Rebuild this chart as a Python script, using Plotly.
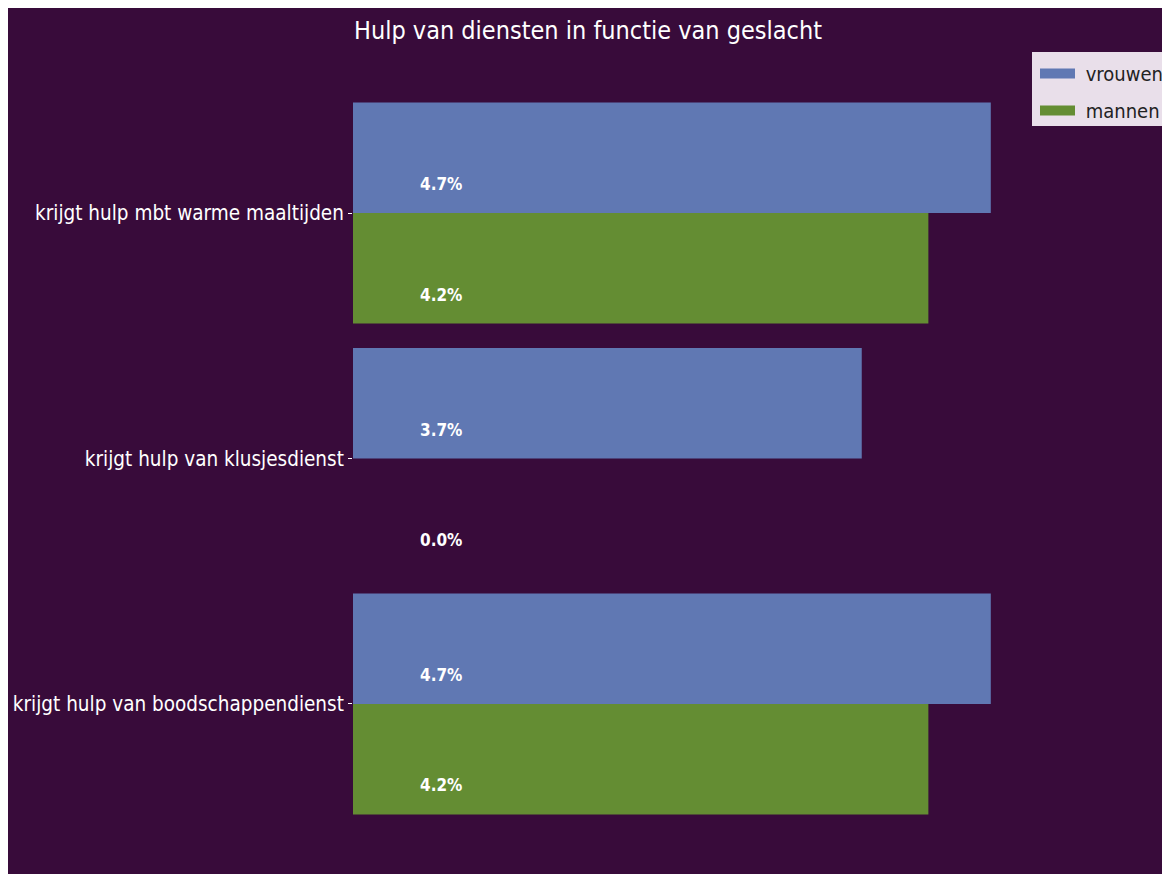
import plotly.graph_objects as go

categories = ["krijgt hulp mbt warme maaltijden", "krijgt hulp van klusjesdienst", "krijgt hulp van boodschappendienst"]
vrouwen = [4.70, 3.749, 4.70]
mannen = [4.24, 0.0, 4.24]
series_names = ["vrouwen", "mannen"]

BG = "#380b3a"
BLUE = "#6078b3"
GREEN = "#648d33"
LEGBG = "#e9dfea"
FONT = "DejaVu Sans Condensed, DejaVu Sans, sans-serif"

pos = list(range(len(categories)))
bw = 0.45
lab_off = 0.114

fig = go.Figure()
fig.add_trace(go.Bar(y=[p - bw / 2 for p in pos], x=vrouwen, orientation="h", width=bw,
                     name=series_names[0], marker=dict(color=BLUE, line=dict(width=0)),
                     hoverinfo="x", showlegend=False))
fig.add_trace(go.Bar(y=[p + bw / 2 for p in pos], x=mannen, orientation="h", width=bw,
                     name=series_names[1], marker=dict(color=GREEN, line=dict(width=0)),
                     hoverinfo="x", showlegend=False))

# legend entries drawn as wide patches
fig.add_trace(go.Scatter(x=[None], y=[None], mode="lines", name="\u00a0" + series_names[0],
                         line=dict(color=BLUE, width=14), legendgroup="a"))
fig.add_trace(go.Scatter(x=[None], y=[None], mode="lines", name="\u00a0" + series_names[1],
                         line=dict(color=GREEN, width=14), legendgroup="b"))

label_x = 0.65
fig.add_trace(go.Scatter(y=[p - bw / 2 + lab_off for p in pos], x=[label_x] * len(pos), mode="text",
                         text=[f"<b>{v:.1f}%</b>" for v in vrouwen], showlegend=False,
                         textfont=dict(color="white", size=17, family=FONT), hoverinfo="skip"))
fig.add_trace(go.Scatter(y=[p + bw / 2 + lab_off for p in pos], x=[label_x] * len(pos), mode="text",
                         text=[f"<b>{v:.1f}%</b>" for v in mannen], showlegend=False,
                         textfont=dict(color="white", size=17, family=FONT), hoverinfo="skip"))

OFF = 8  # page body margin
W, H = 1170 - OFF, 874 - OFF
# plot area in screen px: x 353..1025, y 67..850
L, R, T, B = 353 - OFF, 1025 - OFF, 67 - OFF, 850 - OFF
pw, ph = R - L, B - T


def px_x(p):
    return (p - OFF - L) / pw


def px_y(p):
    return (B - (p - OFF)) / ph


fig.update_layout(
    width=W, height=H,
    margin=dict(l=L, r=W - R, t=T, b=H - B, pad=0, autoexpand=False),
    paper_bgcolor=BG,
    plot_bgcolor=BG,
    barmode="overlay",
    font=dict(family=FONT, color="white"),
    title=dict(text="Hulp van diensten in functie van geslacht", x=(588 - OFF) / W, xanchor="center",
               y=1 - (30 - OFF) / H, yanchor="middle", font=dict(size=25, color="white", family=FONT)),
    xaxis=dict(range=[0, 4.952], showgrid=False, zeroline=False, showticklabels=False,
               showline=False, ticks=""),
    yaxis=dict(range=[2.595, -0.595], tickvals=pos, ticktext=categories, showgrid=False,
               zeroline=False, showline=False, ticks="outside", ticklen=4, tickcolor="white",
               tickfont=dict(size=20.5, color="white", family=FONT)),
    legend=dict(x=px_x(1035), y=px_y(54), xanchor="left", yanchor="top",
                bgcolor="rgba(0,0,0,0)", borderwidth=0, tracegroupgap=8,
                font=dict(size=20, color="#222222", family=FONT), traceorder="grouped",
                itemwidth=35),
    shapes=[dict(type="rect", xref="paper", yref="paper", layer="above",
                 x0=px_x(1032), x1=px_x(1180), y0=px_y(52), y1=px_y(126),
                 fillcolor=LEGBG, line=dict(width=0))],
    showlegend=True,
)

fig.write_html("out.html", post_script="document.body.style.overflow='hidden';")
